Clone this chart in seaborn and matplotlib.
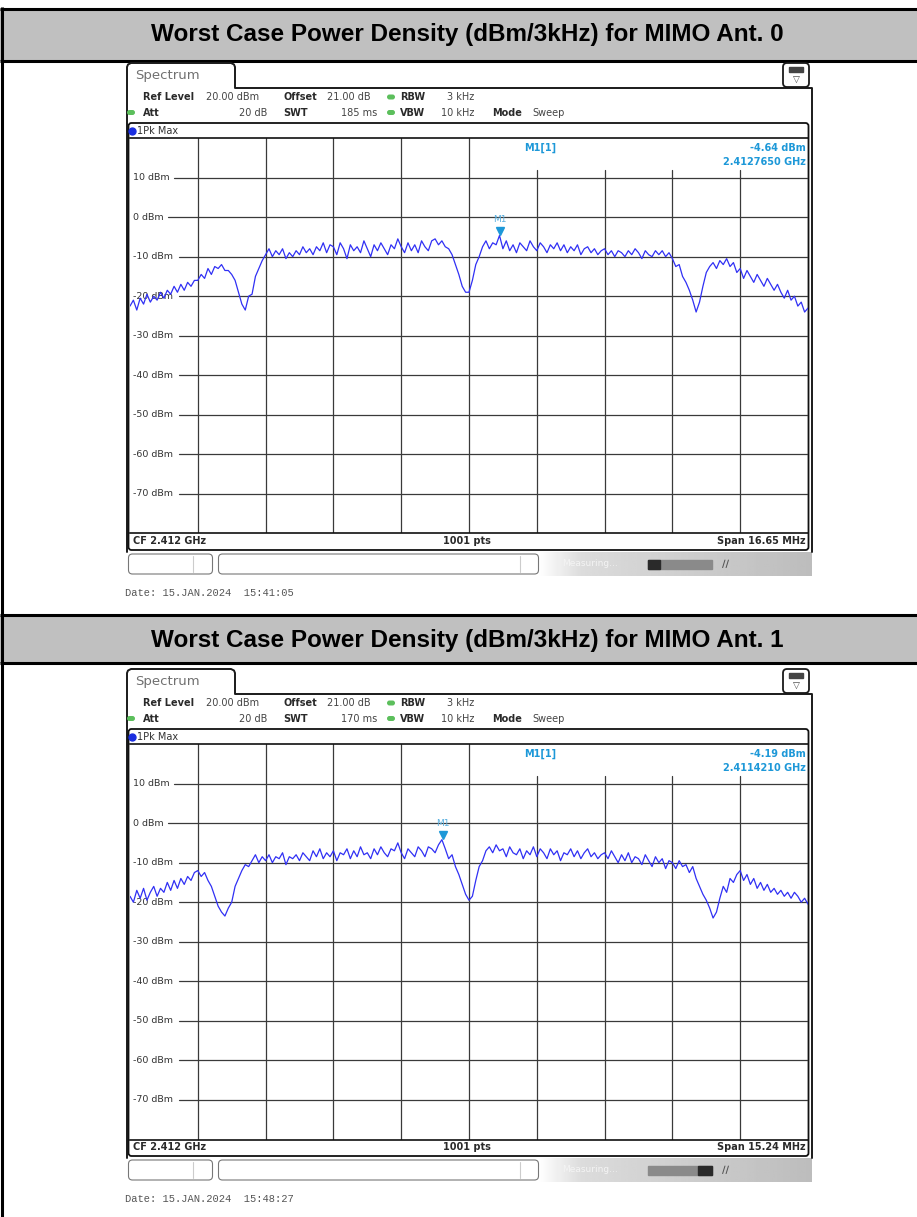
import numpy as np
import pandas as pd
import seaborn as sns
import matplotlib.pyplot as plt
from matplotlib.patches import Rectangle, FancyBboxPatch

W, H = 917, 1217

# ---- data ----
titles = ['Worst Case Power Density (dBm/3kHz) for MIMO Ant. 0',
          'Worst Case Power Density (dBm/3kHz) for MIMO Ant. 1']
center_ghz = [2.412, 2.412]
span_mhz = [16.65, 15.24]
sweep_time = ['185 ms', '170 ms']
marker_ghz = [2.4127650, 2.4114210]
marker_dbm = [-4.64, -4.19]
dates = ['Date: 15.JAN.2024  15:41:05', 'Date: 15.JAN.2024  15:48:27']
level_ticks = [10, 0, -10, -20, -30, -40, -50, -60, -70]

# every 5th sweep point (0..1000)
pts_index = list(range(0, 1001, 5))

trace_ant0 = [
    -22.5, -21.0, -23.5, -20.5, -22.0, -19.5, -21.5, -20.0, -21.0, -19.0,
    -20.5, -18.5, -19.5, -17.5, -19.0, -17.0, -18.5, -16.5, -17.5, -16.0,
    -16.0, -14.5, -15.5, -13.0, -14.5, -12.5, -13.0, -12.0, -13.5, -13.5,
    -14.5, -16.0, -19.0, -22.0, -23.5, -20.0, -19.5, -15.0, -13.0, -11.0,
    -9.5, -8.0, -10.0, -8.5, -9.5, -8.0, -10.5, -9.0, -10.0, -8.5,
    -9.5, -7.5, -9.0, -8.0, -9.5, -7.5, -8.5, -6.5, -9.0, -7.0,
    -7.5, -9.5, -6.5, -8.0, -10.5, -7.0, -8.5, -7.5, -9.0, -6.0,
    -8.0, -10.0, -7.0, -8.5, -6.5, -8.0, -9.5, -7.0, -8.0, -5.5,
    -7.5, -9.0, -6.5, -8.5, -7.0, -9.0, -6.0, -7.5, -8.5, -6.0,
    -5.5, -7.0, -6.0, -7.5, -8.0, -9.5, -12.0, -14.5, -17.5, -19.0,
    -19.0, -16.0, -12.0, -10.0, -7.5, -6.0, -8.0, -6.5, -7.0, -4.64,
    -8.0, -6.0, -8.5, -7.0, -9.0, -6.5, -7.5, -8.5, -6.0, -7.5,
    -8.5, -6.5, -7.5, -9.0, -7.0, -8.0, -6.5, -8.5, -7.0, -9.0,
    -7.5, -8.5, -7.0, -9.5, -8.0, -7.5, -9.0, -8.0, -9.5, -8.5,
    -8.0, -9.5, -8.5, -10.0, -8.5, -9.0, -10.0, -8.5, -9.5, -8.0,
    -9.0, -10.5, -8.5, -9.5, -10.0, -8.5, -9.5, -8.5, -10.0, -9.0,
    -10.5, -12.5, -12.0, -15.0, -16.5, -18.5, -21.0, -24.0, -21.5, -17.5,
    -14.0, -12.5, -11.5, -13.0, -11.0, -12.0, -10.5, -12.5, -11.5, -14.0,
    -13.0, -15.5, -13.5, -15.0, -16.5, -14.5, -16.0, -17.5, -15.5, -17.0,
    -18.5, -17.0, -19.0, -20.5, -18.5, -21.0, -20.0, -22.5, -21.5, -24.0, -23.0,
]

trace_ant1 = [
    -18.5, -20.0, -17.0, -19.0, -16.5, -19.5, -17.5, -16.0, -18.5, -16.5,
    -17.5, -15.0, -17.0, -14.5, -16.5, -14.0, -15.5, -13.5, -14.5, -12.5,
    -12.0, -13.5, -12.5, -14.5, -16.0, -18.5, -21.0, -22.5, -23.5, -21.5,
    -20.0, -16.0, -14.0, -12.0, -10.5, -11.0, -9.5, -8.0, -10.0, -8.5,
    -9.5, -8.0, -10.0, -8.5, -9.0, -7.5, -10.5, -8.5, -9.0, -8.0,
    -9.5, -7.5, -8.5, -9.5, -7.0, -8.5, -6.5, -9.0, -7.5, -8.5,
    -7.0, -9.5, -7.5, -8.0, -6.5, -9.0, -7.0, -8.5, -6.0, -8.0,
    -7.5, -9.0, -6.5, -8.0, -6.0, -7.5, -8.5, -6.5, -7.0, -5.0,
    -7.5, -9.0, -6.5, -7.5, -8.5, -6.0, -7.0, -8.5, -6.0, -6.5,
    -7.5, -5.5, -4.19, -6.5, -9.0, -8.0, -11.0, -13.0, -15.5, -18.0,
    -19.5, -18.5, -14.5, -11.0, -9.5, -7.0, -6.0, -7.5, -5.5, -7.0,
    -6.5, -8.5, -6.0, -7.5, -8.0, -6.5, -9.0, -7.0, -8.0, -6.0,
    -8.5, -6.5, -7.5, -9.0, -6.5, -8.0, -7.0, -9.5, -7.5, -8.0,
    -6.5, -8.5, -7.0, -9.0, -7.5, -6.5, -8.5, -7.5, -9.0, -8.0,
    -7.5, -9.0, -7.0, -8.5, -10.0, -8.0, -9.5, -7.5, -10.0, -8.5,
    -9.0, -10.5, -8.0, -9.5, -11.0, -8.5, -10.0, -9.0, -11.5, -9.5,
    -10.0, -11.5, -9.5, -11.0, -10.5, -12.5, -11.0, -14.0, -16.0, -18.0,
    -19.5, -21.5, -24.0, -22.5, -19.0, -16.0, -17.5, -14.0, -15.0, -13.0,
    -12.0, -14.5, -13.0, -15.5, -14.0, -16.5, -15.0, -17.0, -15.5, -17.5,
    -16.5, -18.0, -17.0, -18.5, -17.5, -19.0, -17.5, -18.5, -20.0, -19.0, -20.5,
]
traces = [trace_ant0, trace_ant1]

# ---- style ----
sns.set_style('white')
plt.rcParams['font.family'] = ['DejaVu Sans']

TXT = '#2a2a2a'
GRID = '#3a3a3a'
BLUE = '#3030f4'
MK = '#1d98d8'
GREEN = '#5cbf5c'

fig = plt.figure(figsize=(W / 100, H / 100), dpi=100)
bg = fig.add_axes([0, 0, 1, 1])
bg.set_xlim(0, W)
bg.set_ylim(H, 0)
bg.axis('off')

# ---- table frame ----
lw3 = 2.2
for y0, y1 in [(9, 60), (616, 662)]:
    bg.add_patch(Rectangle((0, y0), W, y1 - y0, color='#c0c0c0', zorder=1))
for y in [8.5, 60.5, 615, 663]:
    bg.plot([0, W], [y, y], color='black', lw=lw3, solid_capstyle='butt', zorder=2)
bg.plot([1.5, 1.5], [7, H], color='black', lw=lw3, solid_capstyle='butt', zorder=2)
for k, yc in enumerate([35, 641]):
    bg.text(467, yc, titles[k], ha='center', va='center', fontsize=17.5,
            fontweight='bold', family='Liberation Sans', color='black', zorder=3)


def draw_panel(k, dy):
    # tab + panel outline
    xs = [127, 127, 128, 131, 231, 234, 235, 235, 812, 812]
    ys = [552, 67, 64.5, 63, 63, 64.5, 67, 88, 88, 552]
    bg.plot(xs, [v + dy for v in ys], color='#1a1a1a', lw=1.4, zorder=3)
    bg.text(135, 76 + dy, 'Spectrum', fontsize=9.5, color='#707070', va='center', zorder=4)
    # icon top right
    bg.add_patch(FancyBboxPatch((783, 63 + dy), 26, 24,
                                boxstyle='round,pad=0,rounding_size=4',
                                fc='white', ec='#1a1a1a', lw=1.3, zorder=4))
    bg.add_patch(Rectangle((789, 67 + dy), 14, 5, color='#444444', zorder=5))
    bg.text(796, 80 + dy, '\u25BD', fontsize=6.5, ha='center', va='center', color='#444', zorder=5)

    # settings text
    fs = 7
    r1, r2 = 97 + dy, 112.5 + dy
    bg.text(143, r1, 'Ref Level', fontsize=fs, fontweight='bold', color=TXT, va='center')
    bg.text(206, r1, '20.00 dBm', fontsize=fs, color='#444', va='center')
    bg.text(283, r1, 'Offset', fontsize=fs, fontweight='bold', color=TXT, va='center')
    bg.text(327, r1, '21.00 dB', fontsize=fs, color='#444', va='center')
    bg.text(474, r1, '3 kHz', fontsize=fs, color='#444', va='center', ha='right')
    bg.text(400, r1, 'RBW', fontsize=fs, fontweight='bold', color=TXT, va='center')
    bg.text(143, r2, 'Att', fontsize=fs, fontweight='bold', color=TXT, va='center')
    bg.text(267, r2, '20 dB', fontsize=fs, color='#444', va='center', ha='right')
    bg.text(283, r2, 'SWT', fontsize=fs, fontweight='bold', color=TXT, va='center')
    bg.text(377, r2, sweep_time[k], fontsize=fs, color='#444', va='center', ha='right')
    bg.text(400, r2, 'VBW', fontsize=fs, fontweight='bold', color=TXT, va='center')
    bg.text(474, r2, '10 kHz', fontsize=fs, color='#444', va='center', ha='right')
    bg.text(492, r2, 'Mode', fontsize=fs, fontweight='bold', color=TXT, va='center')
    bg.text(532, r2, 'Sweep', fontsize=fs, color='#444', va='center')
    for gx, gy in [(391, r1), (131, r2), (391, r2)]:
        bg.add_patch(FancyBboxPatch((gx - 4, gy - 2.5), 8, 5,
                                    boxstyle='round,pad=0,rounding_size=2.5',
                                    fc=GREEN, ec='none', zorder=4))

    # trace window box
    bg.add_patch(FancyBboxPatch((128.5, 123 + dy), 680, 427,
                                boxstyle='round,pad=0,rounding_size=3',
                                fc='white', ec='#111', lw=1.3, zorder=3))
    bg.plot([132], [130.5 + dy], 'o', ms=5, color='#1a2ee0', zorder=5)
    bg.text(137, 130.5 + dy, '1Pk Max', fontsize=fs, color='#333', va='center', zorder=5)

    # footer of the trace window
    bg.text(133, 541.5 + dy, 'CF %.3f GHz' % center_ghz[k], fontsize=fs,
            fontweight='bold', color=TXT, va='center', zorder=5)
    bg.text(467, 541.5 + dy, '1001 pts', fontsize=fs, fontweight='bold',
            color=TXT, va='center', ha='center', zorder=5)
    bg.text(806, 541.5 + dy, 'Span %.2f MHz' % span_mhz[k], fontsize=fs,
            fontweight='bold', color=TXT, va='center', ha='right', zorder=5)

    # status bar
    bg.add_patch(FancyBboxPatch((128.5, 554 + dy), 84, 20,
                                boxstyle='round,pad=0,rounding_size=4',
                                fc='white', ec='#777', lw=0.8, zorder=3))
    bg.plot([193, 193], [556 + dy, 572 + dy], color='#ccc', lw=0.8, zorder=4)
    bg.add_patch(FancyBboxPatch((218.5, 554 + dy), 320, 20,
                                boxstyle='round,pad=0,rounding_size=4',
                                fc='white', ec='#777', lw=0.8, zorder=3))
    bg.plot([520, 520], [556 + dy, 572 + dy], color='#ccc', lw=0.8, zorder=4)
    grad = np.concatenate([np.linspace(1.0, 0.86, 20), np.linspace(0.86, 0.74, 100)]).reshape(1, -1)
    bg.imshow(grad, cmap='gray', vmin=0, vmax=1, aspect='auto',
              extent=(538, 812, 576 + dy, 552 + dy), zorder=2)
    bg.text(562, 564 + dy, 'Measuring...', fontsize=6.5, color='#f4f4f4',
            va='center', zorder=4)
    bg.add_patch(Rectangle((648, 560 + dy), 64, 9, color='#8a8a8a', zorder=4))
    if k == 0:
        bg.add_patch(Rectangle((648, 560 + dy), 12, 9, color='#2a2a2a', zorder=5))
    else:
        bg.add_patch(Rectangle((698, 560 + dy), 14, 9, color='#2a2a2a', zorder=5))
    bg.text(726, 564 + dy, '\u2215\u2215', fontsize=7, fontweight='bold',
            color='#555', va='center', ha='center', zorder=5)

    bg.text(125, 593 + dy, dates[k], fontsize=7.5, family='Liberation Mono',
            color='#555', va='center')

    # ---- the trace itself ----
    ax = fig.add_axes([130 / W, 1 - (533.5 + dy) / H, 678 / W, 395.5 / H], zorder=6)
    ax.set_facecolor('none')
    ax.set_xlim(0, 1000)
    ax.set_ylim(-80, 20)
    ax.set_xticks([])
    ax.set_yticks([])
    for s in ax.spines.values():
        s.set_color('#111')
        s.set_linewidth(1.2)
    ax.spines['left'].set_visible(False)
    ax.spines['right'].set_visible(False)

    px_per_idx = 678 / 1000
    top_clear = 20 - 32 / 3.955  # marker read-out area on the right
    for i in range(100, 1000, 100):
        ytop = top_clear if i >= 600 else 20
        ax.plot([i, i], [-80, ytop], color=GRID, lw=0.9, zorder=1)
    for lv in level_ticks:
        lab = '%d dBm' % lv
        lab_px = {6: 44, 5: 38}.get(len(lab), 49)
        ax.plot([lab_px / px_per_idx, 1000], [lv, lv], color=GRID, lw=0.9, zorder=1)
        ax.text(4, lv, lab, fontsize=6.8, color='#333', va='center', ha='left', zorder=2)

    df = pd.DataFrame({'pt': pts_index, 'level': traces[k]})
    sns.lineplot(data=df, x='pt', y='level', ax=ax, color=BLUE, lw=0.9, zorder=3)
    ax.set_xlabel('')
    ax.set_ylabel('')

    # marker M1
    m_pt = (marker_ghz[k] - center_ghz[k]) * 1000 / span_mhz[k] * 1000 + 500
    ax.plot([m_pt], [marker_dbm[k] + 1.2], marker='v', ms=5.5, color=MK, zorder=4)
    ax.text(m_pt, marker_dbm[k] + 3.0, 'M1', fontsize=6.5, color='#5ab0e0',
            ha='center', va='bottom', zorder=4)
    bg.text(524, 148 + dy, 'M1[1]', fontsize=7, fontweight='bold', color=MK,
            va='center', zorder=7)
    bg.text(806, 148 + dy, '%.2f dBm' % marker_dbm[k], fontsize=7, fontweight='bold',
            color=MK, va='center', ha='right', zorder=7)
    bg.text(806, 162 + dy, '%.7f GHz' % marker_ghz[k], fontsize=7, fontweight='bold',
            color=MK, va='center', ha='right', zorder=7)


draw_panel(0, 0)
draw_panel(1, 606)

fig.savefig('out.png', dpi=100)
